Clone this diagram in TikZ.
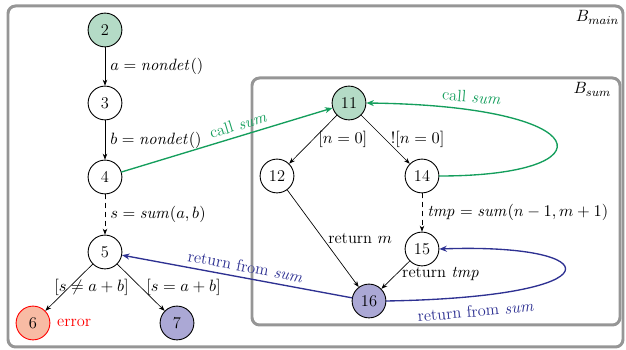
\documentclass[tikz,border=0pt]{standalone}
\usepackage{amsmath}
\usepackage{amssymb}
\usetikzlibrary{arrows.meta}

\definecolor{nodegreen}{RGB}{180,219,198}
\definecolor{nodeviolet}{RGB}{171,168,213}
\definecolor{nodesalmon}{RGB}{248,187,164}
\definecolor{callgreen}{RGB}{20,158,92}
\definecolor{retblue}{RGB}{46,49,146}
\definecolor{boxgray}{RGB}{150,150,150}

\begin{document}
\begin{tikzpicture}[
				x=0.0235cm, y=-0.0235cm,
				line cap=round,
				line join=round,
				every node/.style={font=\fontsize{11}{13}\selectfont},
				state/.style={circle, draw, line width=0.6pt, minimum size=22.6pt, inner sep=0pt},
				edge/.style={-{Stealth[length=4pt,width=3pt]}, line width=0.45pt},
				callarrow/.style={-{Stealth[length=5pt,width=4pt]}, line width=0.9pt, callgreen},
				retarrow/.style={-{Stealth[length=5pt,width=4pt]}, line width=0.9pt, retblue},
				block/.style={draw=boxgray, line width=2pt, rounded corners=5pt}
				]
				\useasboundingbox (0,0) rectangle (626,350);
				
				% Blocks
				\draw[block] (8,6) rectangle (623,347);
				\draw[block] (252,78) rectangle (620,325);
				\node[anchor=north east, inner sep=1pt] (lmain) at (621,9) {$B_{main}$};
				\node[anchor=north east, inner sep=1pt] (lsum) at (613,81) {$B_{sum}$};
				
				% Nodes of main
				\node[state, fill=nodegreen] (n2) at (105,30) {2};
				\node[state] (n3) at (105,103) {3};
				\node[state] (n4) at (105,177) {4};
				\node[state] (n5) at (105,252) {5};
				\node[state, fill=nodesalmon, draw=red] (n6) at (33,323) {6};
				\node[state, fill=nodeviolet] (n7) at (177,323) {7};
				\node[right=1pt, text=red] (err) at (n6.east) {error};
				
				% Nodes of sum
				\node[state, fill=nodegreen] (n11) at (349,103) {11};
				\node[state] (n12) at (277,176) {12};
				\node[state] (n14) at (422,176) {14};
				\node[state] (n15) at (422,249) {15};
				\node[state, fill=nodeviolet] (n16) at (369,301) {16};
				
				% Edges of main
				\draw[edge] (n2) -- node[right] {$a = \mathit{nondet}()$} (n3);
				\draw[edge] (n3) -- node[right] {$b = \mathit{nondet}()$} (n4);
				\draw[edge, dashed] (n4) -- node[right] {$s = \mathit{sum}(a,b)$} (n5);
				\draw[edge] (n5) -- node[midway, xshift=15pt] {$[s \neq a+b]$} (n6);
				\draw[edge] (n5) -- node[right] {$[s = a+b]$} (n7);
				
				% Edges of sum
				\draw[edge] (n11) -- node[right] {$[n = 0]$} (n12);
				\draw[edge] (n11) -- node[right] {$![n = 0]$} (n14);
				\draw[edge, dashed] (n14) -- node[right] {$\mathit{tmp} = \mathit{sum}(n-1, m+1)$} (n15);
				\draw[edge] (n12) -- node[right, pos=0.5] {return $m$} (n16);
				\draw[edge] (n15) -- node[right, pos=0.45] {return $\mathit{tmp}$} (n16);
				
				% Calls and returns
				\draw[callarrow] (n4) -- node[sloped, above, pos=0.57, text=callgreen] {call $\mathit{sum}$} (n11);
				\draw[callarrow] (n14.east) .. controls (612,176) and (600,106) .. (n11.east);
				\node[text=callgreen, rotate=-5] (lcall) at (472,97) {call $\mathit{sum}$};
				\draw[retarrow, {Stealth[length=5pt,width=4pt]}-] (n5) -- node[sloped, above, pos=0.53, text=retblue] {return from $\mathit{sum}$} (n16);
				\draw[retarrow] (n16.east) .. controls (620,297) and (610,243) .. (n15.east);
				\node[text=retblue, rotate=5] (lret) at (476,311) {return from $\mathit{sum}$};
			\end{tikzpicture}
\end{document}
